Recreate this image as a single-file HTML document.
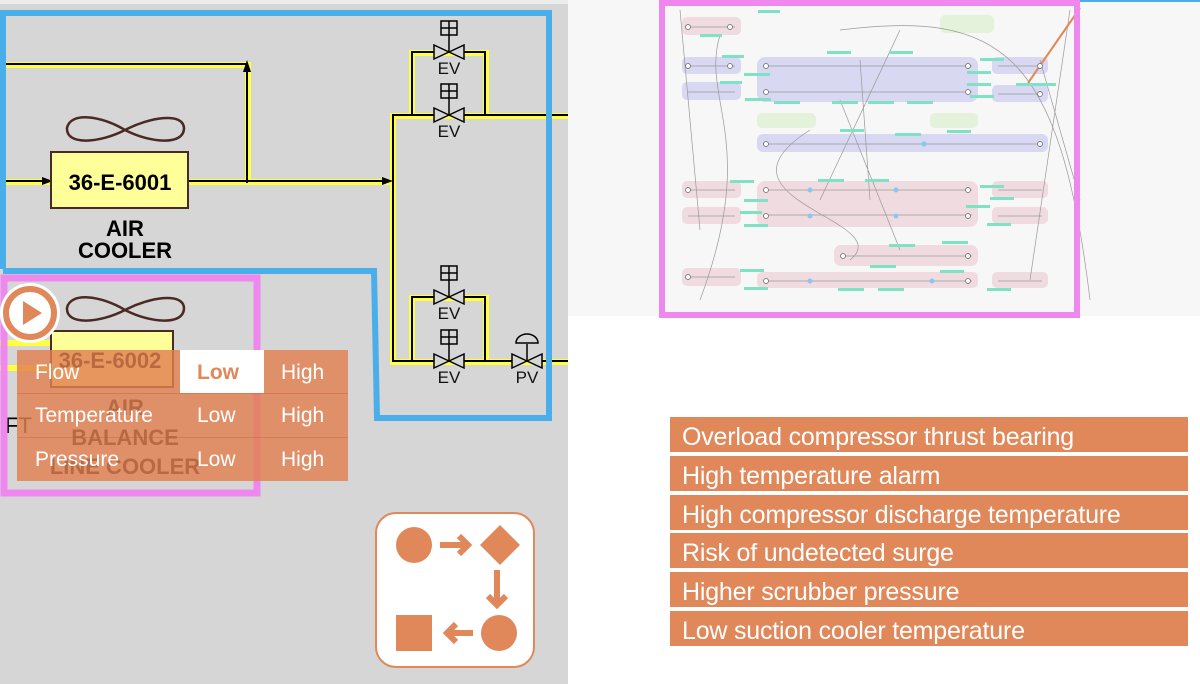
<!DOCTYPE html>
<html><head><meta charset="utf-8"><style>
*{margin:0;padding:0;box-sizing:border-box}
body{width:1200px;height:684px;overflow:hidden;background:#fff;font-family:"Liberation Sans",sans-serif;position:relative}
.abs{position:absolute}
.list div{position:absolute;left:670px;width:518px;height:35px;background:#e0885a;color:#fff;font-size:25px;line-height:40px;padding-left:12px;white-space:nowrap;letter-spacing:-0.2px}
</style></head><body>
<div class="abs" style="left:0;top:0;width:568px;height:684px;background:#d6d6d6"></div>
<div class="abs" style="left:0;top:0;width:568px;height:4px;background:#ececec"></div>
<div class="abs" style="left:568px;top:0;width:632px;height:316px;background:#f7f7f7"></div>

<svg class="abs" style="left:0;top:0" width="568" height="684">
<g fill="none" stroke-linecap="square">
<g stroke="#ffff40" stroke-width="6">
<path d="M0 65H248V182M0 182H53M188 182H393M393 116V362H568M393 116H568M412 116V53H486V116M412 362V298H486V362"/>
<path d="M0 343H53M0 368H53"/>
</g>
<g stroke="#000" stroke-width="2">
<path d="M0 64H247V182M0 181H50M188 181H388M393 115V361H568M393 115H568M412 115V52H485V115M412 361V297H485V361"/>
</g>
</g>
<g fill="#000">
<path d="M247 60l-4 12h8z"/><path d="M53 181l-11-4v8z"/><path d="M393 181l-11-4v8z"/>
</g>
<g stroke="#000" stroke-width="1.5" fill="#d6d6d6">
<g transform="translate(449,52)"><path d="M-15 -7L15 7V-7L-15 7Z"/><path d="M0 0V-18"/><rect x="-8" y="-31" width="16" height="14"/><path d="M-8 -24H8M0 -31V-17"/></g>
<g transform="translate(449,115)"><path d="M-15 -7L15 7V-7L-15 7Z"/><path d="M0 0V-18"/><rect x="-8" y="-31" width="16" height="14"/><path d="M-8 -24H8M0 -31V-17"/></g>
<g transform="translate(449,297)"><path d="M-15 -7L15 7V-7L-15 7Z"/><path d="M0 0V-18"/><rect x="-8" y="-31" width="16" height="14"/><path d="M-8 -24H8M0 -31V-17"/></g>
<g transform="translate(449,361)"><path d="M-15 -7L15 7V-7L-15 7Z"/><path d="M0 0V-18"/><rect x="-8" y="-31" width="16" height="14"/><path d="M-8 -24H8M0 -31V-17"/></g>
<g transform="translate(527,361)"><path d="M-15 -7L15 7V-7L-15 7Z"/><path d="M0 0V-17"/><path d="M-11 -18A11 9 0 0 1 11 -18Z" fill="#d6d6d6"/></g>
</g>
<g font-size="17" fill="#111" text-anchor="middle">
<text x="449" y="74">EV</text><text x="449" y="137">EV</text><text x="449" y="319">EV</text><text x="449" y="383">EV</text><text x="527" y="383">PV</text>
</g>
<g fill="none" stroke="#4a2a22" stroke-width="2.5">
<path d="M125 130C100 115 70 112 67 128C66 146 100 143 125 130C150 117 183 112 184 128C184 146 150 143 125 130Z"/>
<path d="M125 310C100 295 70 292 67 308C66 326 100 323 125 310C150 297 183 292 184 308C184 326 150 323 125 310Z"/>
</g>
<rect x="51" y="152" width="137" height="56" fill="#ffff99" stroke="#4a2a22" stroke-width="2"/>
<text x="120" y="190" font-size="22" font-weight="bold" text-anchor="middle">36-E-6001</text>
<text x="125" y="236" font-size="22" font-weight="bold" text-anchor="middle">AIR</text>
<text x="125" y="258" font-size="22" font-weight="bold" text-anchor="middle">COOLER</text>
<rect x="51" y="331" width="122" height="56" fill="#ffff99" stroke="#4a2a22" stroke-width="2"/>
<text x="110" y="368" font-size="22" font-weight="bold" text-anchor="middle">36-E-6002</text>
<text x="125" y="415" font-size="22" font-weight="bold" text-anchor="middle">AIR</text>
<text x="125" y="445" font-size="22" font-weight="bold" text-anchor="middle">BALANCE</text>
<text x="125" y="474" font-size="22" font-weight="bold" text-anchor="middle">LINE COOLER</text>
<text x="5" y="433" font-size="22">FT</text>
<path d="M3 269V13H549V418H377L374 271H3" fill="none" stroke="#4aaeea" stroke-width="6"/>
<rect x="4" y="278" width="253" height="215" fill="none" stroke="#ee88ee" stroke-width="7"/>
<circle cx="30" cy="313" r="30" fill="#fff"/>
<circle cx="30" cy="313" r="24" fill="#fff" stroke="#e0885a" stroke-width="6"/>
<path d="M23 301L42 313L23 325Z" fill="#e0885a"/>
<rect x="376" y="513" width="158" height="154" rx="20" fill="#fff" stroke="#e0885a" stroke-width="2"/>
<g fill="#e0885a" stroke="#e0885a">
<circle cx="414" cy="545" r="18" stroke="none"/>
<path d="M440 545H468M459 536l9 9-9 9" fill="none" stroke-width="6"/>
<path d="M500 525L520 545L500 565L480 545Z" stroke="none"/>
<path d="M497 570V604M488 596l9 9 9-9" fill="none" stroke-width="6"/>
<circle cx="499" cy="633" r="18" stroke="none"/>
<rect x="396" y="615" width="36" height="36" stroke="none"/>
<path d="M473 633H447M456 624l-9 9 9 9" fill="none" stroke-width="6"/>
</g>
</svg>

<div class="abs" style="left:17px;top:350px;width:331px;height:131px;background:rgba(226,128,80,0.82)"></div>
<div class="abs" style="left:180px;top:350px;width:84px;height:43px;background:#fff"></div>
<div class="abs" style="left:17px;top:393px;width:331px;height:1px;background:rgba(200,90,50,0.4)"></div>
<div class="abs" style="left:17px;top:437px;width:331px;height:1px;background:rgba(200,90,50,0.4)"></div>
<div class="abs" style="left:35px;top:361px;color:#fff;font-size:21px">Flow</div>
<div class="abs" style="left:197px;top:361px;color:#e0885a;font-size:21px;font-weight:bold">Low</div>
<div class="abs" style="left:281px;top:361px;color:#fff;font-size:21px">High</div>
<div class="abs" style="left:35px;top:404px;color:#fff;font-size:21px">Temperature</div>
<div class="abs" style="left:197px;top:404px;color:#fff;font-size:21px">Low</div>
<div class="abs" style="left:281px;top:404px;color:#fff;font-size:21px">High</div>
<div class="abs" style="left:35px;top:448px;color:#fff;font-size:21px">Pressure</div>
<div class="abs" style="left:197px;top:448px;color:#fff;font-size:21px">Low</div>
<div class="abs" style="left:281px;top:448px;color:#fff;font-size:21px">High</div>

<svg class="abs" style="left:568px;top:0" width="632" height="320">
<rect x="512" y="0" width="120" height="2" fill="#4aaeea"/>
<g transform="translate(-568,0)">
<g fill="#f0dce0">
<rect x="682" y="17" width="59" height="18" rx="5"/>
<rect x="682" y="181" width="59" height="17" rx="5"/><rect x="757" y="181" width="221" height="46" rx="8"/><rect x="992" y="181" width="56" height="17" rx="5"/>
<rect x="682" y="207" width="59" height="17" rx="5"/><rect x="992" y="207" width="56" height="17" rx="5"/>
<rect x="834" y="245" width="144" height="21" rx="7"/>
<rect x="682" y="268" width="59" height="18" rx="5"/><rect x="757" y="272" width="221" height="16" rx="5"/><rect x="992" y="272" width="56" height="16" rx="5"/>
</g>
<g fill="#d8d8f2">
<rect x="682" y="57" width="59" height="17" rx="5"/><rect x="757" y="57" width="221" height="45" rx="8"/><rect x="992" y="57" width="56" height="17" rx="5"/>
<rect x="682" y="82" width="59" height="18" rx="5"/><rect x="992" y="85" width="56" height="17" rx="5"/>
<rect x="757" y="134" width="291" height="18" rx="6"/>
</g>
<g fill="#e4f2dc">
<rect x="940" y="15" width="54" height="18" rx="5"/><rect x="757" y="113" width="59" height="15" rx="5"/><rect x="930" y="113" width="48" height="15" rx="5"/>
</g>
<g fill="none" stroke="#999" stroke-width="0.7">
<path d="M688 27H735M688 66H735M688 92H735M763 66H972M763 92H972M998 66H1042M998 94H1042M763 144H1042M688 190H735M763 190H972M763 215H972M998 190H1042M688 216H735M998 216H1042M843 256H972M688 277H735M763 281H972M998 281H1042"/>
<path d="M720 35C700 100 760 140 700 300M840 30C1000 10 1060 50 1090 300M680 10L700 230M840 100L900 250M900 30L820 200M1040 60L1080 200M810 130C700 200 900 220 850 260M860 60L870 200M1070 10L1030 280"/>
</g>
<path d="M1080 8L1028 83" stroke="#e0885a" stroke-width="2"/>
<g fill="#80e2c4">
<rect x="758" y="10" width="22" height="3"/><rect x="700" y="34" width="22" height="3"/><rect x="722" y="55" width="22" height="3"/><rect x="744" y="73" width="26" height="3"/><rect x="720" y="81" width="22" height="3"/><rect x="745" y="98" width="26" height="3"/><rect x="774" y="101" width="26" height="3"/><rect x="832" y="101" width="26" height="3"/><rect x="868" y="101" width="26" height="3"/><rect x="907" y="101" width="26" height="3"/><rect x="827" y="51" width="24" height="3"/><rect x="889" y="51" width="24" height="3"/><rect x="980" y="58" width="24" height="3"/><rect x="967" y="71" width="24" height="3"/><rect x="967" y="83" width="24" height="3"/><rect x="1016" y="83" width="40" height="3"/><rect x="970" y="95" width="24" height="3"/><rect x="840" y="129" width="24" height="3"/><rect x="895" y="133" width="26" height="3"/><rect x="947" y="130" width="24" height="3"/><rect x="730" y="180" width="24" height="3"/><rect x="744" y="199" width="24" height="3"/><rect x="818" y="179" width="26" height="3"/><rect x="865" y="179" width="24" height="3"/><rect x="980" y="185" width="24" height="3"/><rect x="990" y="197" width="24" height="3"/><rect x="966" y="205" width="24" height="3"/><rect x="744" y="224" width="24" height="3"/><rect x="740" y="211" width="22" height="3"/><rect x="987" y="223" width="24" height="3"/><rect x="889" y="244" width="26" height="3"/><rect x="942" y="241" width="26" height="3"/><rect x="870" y="265" width="26" height="3"/><rect x="740" y="269" width="24" height="3"/><rect x="940" y="270" width="24" height="3"/><rect x="744" y="287" width="24" height="3"/><rect x="838" y="288" width="26" height="3"/><rect x="878" y="288" width="26" height="3"/><rect x="987" y="288" width="24" height="3"/>
</g>
<g fill="#fff" stroke="#666" stroke-width="0.7">
<circle cx="688" cy="27" r="2.5"/><circle cx="730" cy="27" r="2.5"/><circle cx="688" cy="66" r="2.5"/><circle cx="730" cy="66" r="2.5"/><circle cx="766" cy="66" r="2.5"/><circle cx="968" cy="66" r="2.5"/><circle cx="766" cy="92" r="2.5"/><circle cx="968" cy="92" r="2.5"/><circle cx="1040" cy="66" r="2.5"/><circle cx="1040" cy="94" r="2.5"/><circle cx="766" cy="144" r="2.5"/><circle cx="1040" cy="144" r="2.5"/><circle cx="688" cy="190" r="2.5"/><circle cx="766" cy="190" r="2.5"/><circle cx="968" cy="190" r="2.5"/><circle cx="766" cy="216" r="2.5"/><circle cx="968" cy="216" r="2.5"/><circle cx="843" cy="256" r="2.5"/><circle cx="968" cy="256" r="2.5"/><circle cx="688" cy="277" r="2.5"/><circle cx="766" cy="281" r="2.5"/><circle cx="968" cy="281" r="2.5"/>
</g>
<g fill="#88c8f0"><circle cx="924" cy="144" r="2.5"/><circle cx="810" cy="190" r="2.5"/><circle cx="896" cy="190" r="2.5"/><circle cx="810" cy="216" r="2.5"/><circle cx="896" cy="216" r="2.5"/><circle cx="810" cy="281" r="2.5"/><circle cx="932" cy="281" r="2.5"/></g>
<rect x="662" y="3" width="415" height="312" fill="none" stroke="#ee88ee" stroke-width="6"/>
</g>
</svg>

<div class="list">
<div style="top:417px">Overload compressor thrust bearing</div>
<div style="top:456px">High temperature alarm</div>
<div style="top:495px">High compressor discharge temperature</div>
<div style="top:533px">Risk of undetected surge</div>
<div style="top:572px">Higher scrubber pressure</div>
<div style="top:611px">Low suction cooler temperature</div>
</div>
</body></html>
